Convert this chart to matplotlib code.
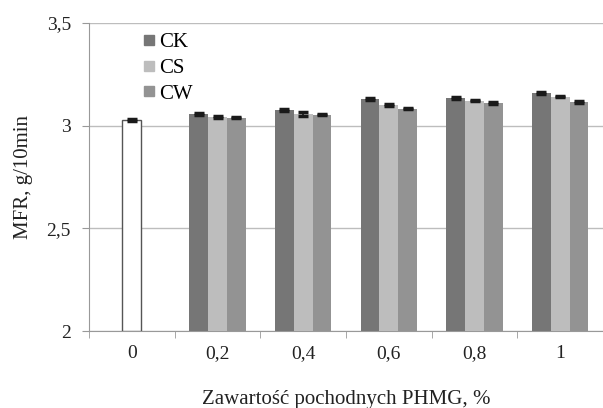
import numpy as np
from matplotlib import pyplot as plt
from matplotlib.lines import Line2D

plt.rcParams['font.family'] = ['Liberation Serif', 'DejaVu Serif']

categories = ['0', '0,2', '0,4', '0,6', '0,8', '1']
# control sample (0 %)
base_val = 3.028
base_err = 0.004
# PHMG derivatives, 0.2 .. 1 %
ck = [3.059, 3.077, 3.130, 3.135, 3.157]
cs = [3.044, 3.057, 3.102, 3.122, 3.142]
cw = [3.039, 3.054, 3.083, 3.111, 3.115]
ck_err = [0.005, 0.004, 0.004, 0.003, 0.005]
cs_err = [0.005, 0.008, 0.006, 0.003, 0.004]
cw_err = [0.003, 0.004, 0.004, 0.005, 0.006]

colors = {'CK': '#767676', 'CS': '#bdbdbd', 'CW': '#939393'}

fig = plt.figure(figsize=(6.03, 4.08), dpi=100)
ax = fig.add_axes([0.1476, 0.1887, 0.8524, 0.7549])

w = 0.22
err_kw = dict(ecolor='#1a1a1a', elinewidth=1.2, capsize=3.5, capthick=2.5)

ax.bar(0, base_val - 2, bottom=2, width=w, color='white', edgecolor='#555555', linewidth=1.0,
       yerr=base_err, error_kw=err_kw, zorder=3)

x = np.arange(1, len(categories))
for i, (name, vals, errs) in enumerate([('CK', ck, ck_err), ('CS', cs, cs_err), ('CW', cw, cw_err)]):
    ax.bar(x + (i - 1) * w, np.array(vals) - 2, bottom=2, width=w, color=colors[name],
           yerr=errs, error_kw=err_kw, zorder=3)

ax.set_xlim(-0.5, len(categories) - 0.5)
ax.set_ylim(2, 3.5)
ax.set_yticks([2, 2.5, 3, 3.5])
ax.set_yticklabels(['2', '2,5', '3', '3,5'])
ax.set_xticks(np.arange(len(categories)))
ax.set_xticklabels(categories)
ax.set_xticks(np.arange(len(categories) + 1) - 0.5, minor=True)
ax.tick_params(axis='x', which='major', length=0, pad=10, labelsize=14, labelcolor='#222222')
ax.tick_params(axis='x', which='minor', length=5, color='#999999', direction='out')
ax.tick_params(axis='y', length=5, color='#999999', pad=8, labelsize=14, labelcolor='#222222')
ax.yaxis.grid(True, color='#bdbdbd', linewidth=1.0, zorder=0)
ax.set_axisbelow(True)
for s in ['top', 'right']:
    ax.spines[s].set_visible(False)
for s in ['left', 'bottom']:
    ax.spines[s].set_color('#999999')

ax.set_ylabel('MFR, g/10min', fontsize=15, color='#222222', labelpad=10)
ax.set_xlabel('Zawartość pochodnych PHMG, %', fontsize=15, color='#222222', labelpad=20)

handles = [Line2D([], [], marker='s', linestyle='none', markersize=7.5, color=colors[n]) for n in ['CK', 'CS', 'CW']]
ax.legend(handles, ['CK', 'CS', 'CW'], loc='upper left', bbox_to_anchor=(0.06, 1.03), frameon=False,
          fontsize=15, handletextpad=0.0, labelspacing=0.3, handlelength=1.0)

fig.savefig('out.png', dpi=100)
